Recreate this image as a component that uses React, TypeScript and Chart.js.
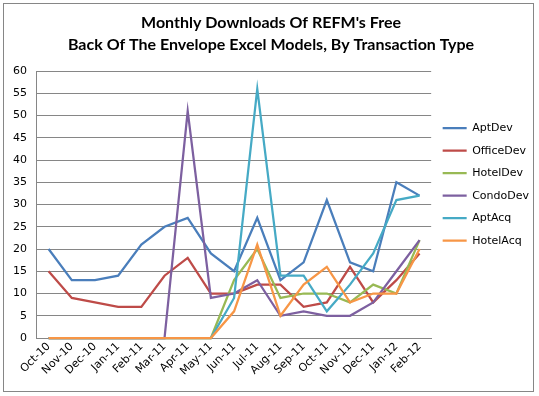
import React, { useEffect, useRef } from "react";
import { Chart, registerables } from "chart.js";

Chart.register(...registerables);

const categories = ["Oct-10","Nov-10","Dec-10","Jan-11","Feb-11","Mar-11","Apr-11","May-11","Jun-11","Jul-11","Aug-11","Sep-11","Oct-11","Nov-11","Dec-11","Jan-12","Feb-12"];
const aptDev = [20,13,13,14,21,25,27,19,15,27,13,17,31,17,15,35,32];
const officeDev = [15,9,8,7,7,14,18,10,10,12,12,7,8,16,8,13,19];
const hotelDev = [0,0,0,0,0,0,0,0,13,20,9,10,10,8,12,10,22];
const condoDev = [0,0,0,0,0,0,51,9,10,13,5,6,5,5,8,15,22];
const aptAcq = [0,0,0,0,0,0,0,0,9,56,14,14,6,12,19,31,32];
const hotelAcq = [0,0,0,0,0,0,0,0,6,21,5,12,16,8,10,10,20];
const yTicks = [0,5,10,15,20,25,30,35,40,45,50,55,60];

const seriesNames = ["AptDev","OfficeDev","HotelDev","CondoDev","AptAcq","HotelAcq"];
const seriesData = [aptDev, officeDev, hotelDev, condoDev, aptAcq, hotelAcq];
const seriesColors = ["#4A7EBB","#BE4B48","#98B954","#7D60A0","#46AAC5","#F79646"];

export default function App() {
  const ref = useRef<HTMLCanvasElement | null>(null);
  useEffect(() => {
    document.body.style.margin = "0";
    const ctx = ref.current!;
    const font = "'DejaVu Sans', Verdana, sans-serif";
    const chart = new Chart(ctx, {
      type: "line",
      data: {
        labels: categories,
        datasets: seriesNames.map((n, i) => ({
          label: n,
          data: seriesData[i],
          borderColor: seriesColors[i],
          backgroundColor: seriesColors[i],
          borderWidth: 2.25,
          pointRadius: 0,
          pointStyle: "line",
          tension: 0,
          clip: 4,
          order: seriesNames.length - i,
        })),
      },
      options: {
        animation: false,
        responsive: false,
        devicePixelRatio: 1,
        layout: { padding: { left: 3, right: 0, top: 0, bottom: 16 } },
        plugins: {
          title: {
            display: true,
            text: ["Monthly Downloads Of REFM's Free", "Back Of The Envelope Excel Models, By Transaction Type"],
            font: { family: "Lato, sans-serif", size: 16, weight: "bold", lineHeight: 1.375 },
            color: "#000",
            padding: { top: 12, bottom: 15 },
          },
          legend: {
            position: "right",
            align: "start",
            title: { display: true, text: " ", font: { size: 11, family: font }, padding: { top: 98, bottom: 0 } },
            labels: {
              usePointStyle: true,
              pointStyleWidth: 24,
              font: { family: font, size: 11 },
              color: "#000",
              padding: 11.5,
              sort: (a: any, b: any) => a.datasetIndex - b.datasetIndex,
            },
          },
          tooltip: { enabled: false },
        },
        scales: {
          x: {
            offset: true,
            grid: { display: false, drawTicks: false },
            border: { display: true, color: "#868686", width: 1 },
            ticks: {
              font: { family: font, size: 11 },
              color: "#000",
              minRotation: 45,
              maxRotation: 45,
              autoSkip: false,
              padding: 2,
            },
          },
          y: {
            min: 0,
            max: 60,
            afterBuildTicks: (axis: any) => {
              axis.ticks = yTicks.map((v) => ({ value: v }));
            },
            grid: { color: "#868686", drawTicks: false },
            border: { display: true, color: "#868686", width: 1 },
            ticks: {
              font: { family: font, size: 11 },
              color: "#000",
              padding: 10,
            },
          },
        },
      },
    });
    return () => chart.destroy();
  }, []);
  return (
    <div style={{ position: "relative", width: 539, height: 396 }}>
      <canvas ref={ref} width={539} height={396} style={{ position: "absolute", left: 0, top: 0, width: 539, height: 396 }} />
      <div style={{ position: "absolute", left: 3, top: 3, width: 531, height: 389, border: "1px solid #868686", boxSizing: "border-box", pointerEvents: "none" }} />
    </div>
  );
}
